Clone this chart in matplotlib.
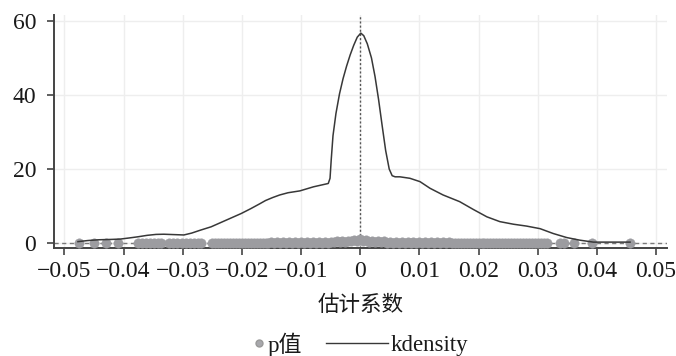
import matplotlib
matplotlib.use("Agg")
import matplotlib.pyplot as plt
from matplotlib.lines import Line2D

# kernel density of the placebo coefficients
kd_x = [-0.0477, -0.0460, -0.0442, -0.0420, -0.0405, -0.0390, -0.0376, -0.0360,
        -0.0345, -0.0332, -0.0315, -0.0298, -0.0285, -0.0270, -0.0252, -0.0235,
        -0.0218, -0.0201, -0.0185, -0.0170, -0.0160, -0.0148, -0.0136, -0.0122,
        -0.0102, -0.0079, -0.0054, -0.0051, -0.0049, -0.0046, -0.0041, -0.0035,
        -0.0029, -0.0023, -0.0017, -0.0011, -0.0005, 0.0001, 0.0006, 0.0012,
        0.0019, 0.0025, 0.0031, 0.0037, 0.0043, 0.0049, 0.0054, 0.0059,
        0.0067, 0.0084, 0.0101, 0.0118, 0.0140, 0.0168, 0.0191, 0.0214,
        0.0236, 0.0259, 0.0281, 0.0304, 0.0326, 0.0349, 0.0371, 0.0394, 0.0456]
kd_y = [0.4, 0.7, 0.9, 1.0, 1.1, 1.4, 1.7, 2.1,
        2.35, 2.4, 2.3, 2.2, 2.7, 3.5, 4.4, 5.6,
        6.8, 8.0, 9.3, 10.6, 11.5, 12.3, 13.0, 13.6,
        14.1, 15.2, 16.1, 17.5, 22.5, 29.0, 35.0, 40.3,
        44.4, 47.8, 50.8, 53.4, 55.6, 56.7, 56.0, 53.8,
        50.0, 45.0, 38.8, 31.8, 25.0, 20.0, 18.2, 17.9,
        17.9, 17.5, 16.6, 14.8, 13.0, 11.2, 9.1, 7.1,
        5.8, 5.1, 4.6, 3.9, 2.6, 1.5, 0.8, 0.27, 0.27]

# estimated coefficients and their p-values (dense band)
coef_hi = [-0.025, -0.024, -0.023, -0.022, -0.021, -0.020, -0.019, -0.018,
           -0.017, -0.016, -0.015, -0.014, -0.013, -0.012, -0.011, -0.010,
           -0.009, -0.008, -0.007, -0.006, -0.005, -0.004, -0.003, -0.002,
           -0.001, 0.000, 0.001, 0.002, 0.003, 0.004, 0.005, 0.006,
           0.007, 0.008, 0.009, 0.010, 0.011, 0.012, 0.013, 0.014,
           0.015, 0.016, 0.017, 0.018, 0.019, 0.020, 0.021, 0.022,
           0.023, 0.024, 0.025, 0.026, 0.027, 0.028, 0.029, 0.030, 0.031]
p_hi = [0.07, 0.08, 0.09, 0.10, 0.11, 0.12, 0.13, 0.14,
        0.15, 0.16, 0.17, 0.18, 0.20, 0.21, 0.22, 0.24,
        0.26, 0.28, 0.31, 0.35, 0.40, 0.47, 0.55, 0.65,
        0.80, 1.00, 0.82, 0.66, 0.54, 0.46, 0.40, 0.35,
        0.31, 0.28, 0.26, 0.24, 0.22, 0.21, 0.19, 0.18,
        0.17, 0.16, 0.15, 0.14, 0.13, 0.12, 0.11, 0.10,
        0.09, 0.08, 0.07, 0.06, 0.05, 0.05, 0.04, 0.04, 0.03]
coef_lo = [-0.0245, -0.0235, -0.0225, -0.0215, -0.0205, -0.0195, -0.0185, -0.0175,
           -0.0165, -0.0155, -0.0145, -0.0135, -0.0125, -0.0115, -0.0105, -0.0095,
           -0.0085, -0.0075, -0.0065, -0.0055, -0.0045, -0.0035, -0.0025, -0.0015,
           -0.0005, 0.0005, 0.0015, 0.0025, 0.0035, 0.0045, 0.0055, 0.0065,
           0.0075, 0.0085, 0.0095, 0.0105, 0.0115, 0.0125, 0.0135, 0.0145,
           0.0155, 0.0165, 0.0175, 0.0185, 0.0195, 0.0205, 0.0215, 0.0225,
           0.0235, 0.0245, 0.0255, 0.0265, 0.0275, 0.0285, 0.0295, 0.0305, 0.0315]
p_lo = [0.01, 0.02, 0.00, 0.01, 0.03, 0.01, 0.02, 0.00,
        0.02, 0.01, 0.03, 0.02, 0.01, 0.04, 0.02, 0.03,
        0.05, 0.02, 0.08, 0.12, 0.18, 0.25, 0.35, 0.45,
        0.60, 0.58, 0.43, 0.32, 0.22, 0.15, 0.10, 0.06,
        0.03, 0.04, 0.02, 0.03, 0.01, 0.02, 0.03, 0.01,
        0.02, 0.00, 0.01, 0.02, 0.01, 0.00, 0.02, 0.01,
        0.00, 0.01, 0.02, 0.00, 0.01, 0.00, 0.01, 0.00, 0.01]
# sparser coefficients in the tails
coef_tail = [-0.0475, -0.0450, -0.0429, -0.0409, -0.0376, -0.0369, -0.0362, -0.0355,
             -0.0348, -0.0342, -0.0336, -0.0323, -0.0316, -0.0309, -0.0302, -0.0295,
             -0.0288, -0.0281, -0.0274, -0.0269, 0.0338, 0.0345, 0.0361, 0.0391, 0.0456]
p_tail = [0.01, 0.00, 0.02, 0.01, 0.01, 0.02, 0.00, 0.01,
          0.02, 0.01, 0.00, 0.01, 0.02, 0.00, 0.01, 0.02,
          0.01, 0.00, 0.02, 0.01, 0.01, 0.00, 0.01, 0.02, 0.01]

xticks = [-0.05, -0.04, -0.03, -0.02, -0.01, 0, 0.01, 0.02, 0.03, 0.04, 0.05]
xtick_labels = ["\u22120.05", "\u22120.04", "\u22120.03", "\u22120.02", "\u22120.01",
                "0", "0.01", "0.02", "0.03", "0.04", "0.05"]
yticks = [0, 20, 40, 60]

plt.rcParams['font.family'] = ['Liberation Serif', 'Noto Sans CJK SC']

fig = plt.figure(figsize=(6.76, 3.56), dpi=100)
ax = fig.add_axes([0.0803, 0.302, 0.906, 0.656])

gray = '#9c9ca0'
ax.scatter(coef_hi + coef_lo + coef_tail, p_hi + p_lo + p_tail,
           s=46, color=gray, edgecolors=gray, linewidths=0.3, zorder=3)
ax.plot(kd_x, kd_y, color='#383838', lw=1.1, zorder=4)
ax.axhline(0, color='#7a7a7a', lw=1, ls=(0, (3, 2.5)), zorder=2)
ax.axvline(0, color='#555555', lw=1, ls=(0, (1.5, 1.5)), zorder=2)

ax.set_xlim(-0.0517, 0.0518)
ax.set_ylim(-1.45, 61.6)
ax.set_xticks(xticks)
ax.set_xticklabels(xtick_labels)
ax.set_yticks(yticks)

ax.grid(color='#eeeeee', lw=1)
ax.set_axisbelow(True)
for s in ['top', 'right']:
    ax.spines[s].set_visible(False)
for s in ['left', 'bottom']:
    ax.spines[s].set_color('#444444')
    ax.spines[s].set_linewidth(1.4)
ax.tick_params(length=5, width=1.2, color='#444444', labelsize=17, labelcolor='#1a1a1a')
ax.tick_params(axis='x', pad=4)
ax.tick_params(axis='y', pad=8)

ax.set_xlabel('估计系数', fontsize=15.5, labelpad=10, color='#1a1a1a')

# legend below the axis title
ly = 1 - 342.5 / 356
fig.add_artist(Line2D([259 / 676], [ly], marker='o', ms=5, color='#a8a8ac',
                      mec='#999999', ls='none', transform=fig.transFigure))
fig.text(268 / 676, 1 - 345 / 356, 'p值', fontsize=16.5, va='center', color='#1a1a1a')
fig.add_artist(Line2D([326 / 676, 388 / 676], [ly, ly], color='#383838', lw=1,
                      transform=fig.transFigure))
fig.text(391 / 676, 1 - 345 / 356, 'kdensity', fontsize=16.5, va='center', color='#1a1a1a')

fig.savefig('out.png', dpi=100)
